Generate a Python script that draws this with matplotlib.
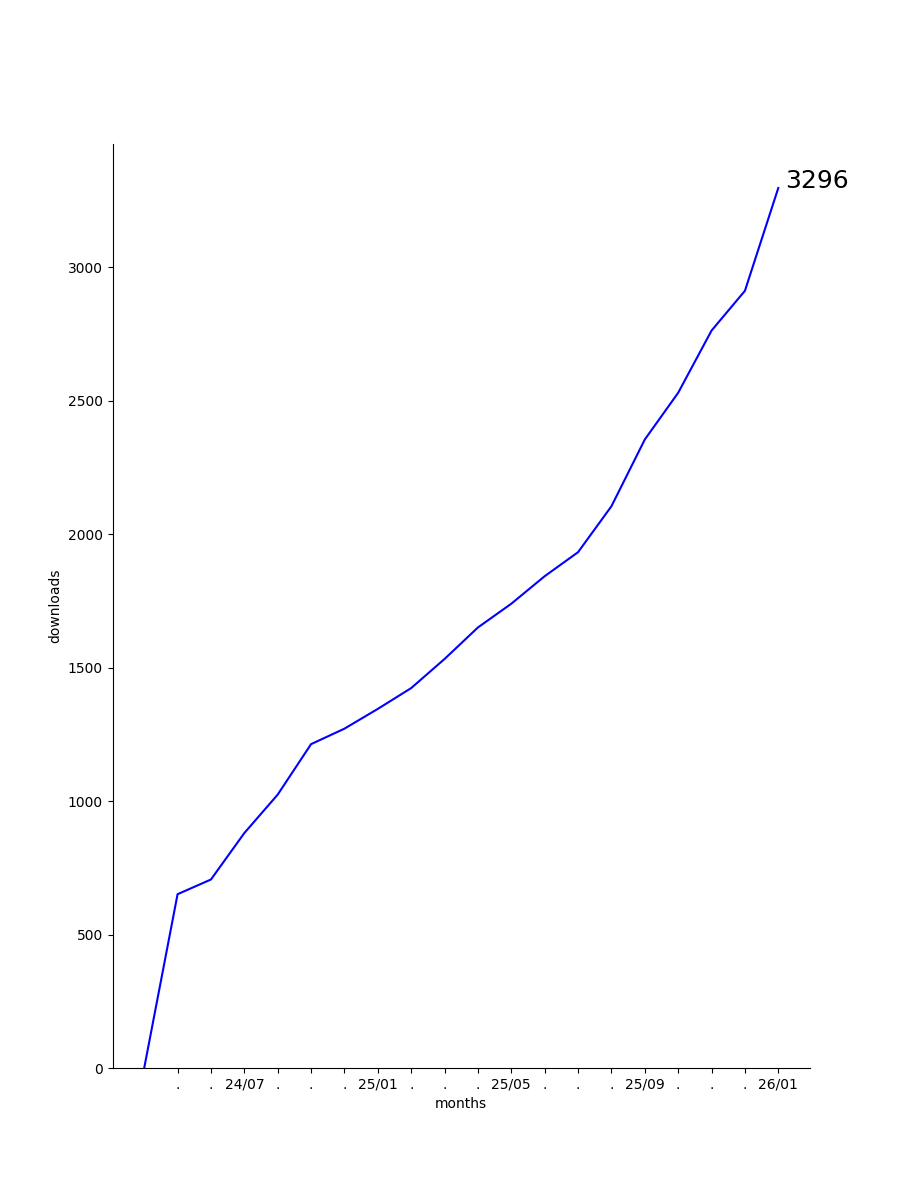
import matplotlib
matplotlib.use("Agg")
import matplotlib.pyplot as plt

# cumulative downloads per month
downloads = [0, 651, 706, 880, 1024, 1213, 1271, 1345, 1423, 1532, 1650,
             1739, 1842, 1932, 2104, 2354, 2529, 2762, 2911, 3296]
month_labels = [".", ".", "24/07", ".", ".", ".", "25/01", ".", ".", ".",
                "25/05", ".", ".", ".", "25/09", ".", ".", ".", "26/01"]

x = list(range(len(downloads)))

fig = plt.figure(figsize=(9, 12), dpi=100)
ax = fig.add_subplot(1, 1, 1)
ax.plot(x, downloads, color="b")
ax.set_ylim(bottom=0)
ax.set_xticks(x[1:])
ax.set_xticklabels(month_labels)
ax.set_xlabel("months")
ax.set_ylabel("downloads")
ax.spines["top"].set_visible(False)
ax.spines["right"].set_visible(False)
ax.annotate(str(downloads[-1]), xy=(x[-1], downloads[-1]),
            xytext=(5, 0), textcoords="offset points", fontsize=18)

fig.savefig("out.png")
